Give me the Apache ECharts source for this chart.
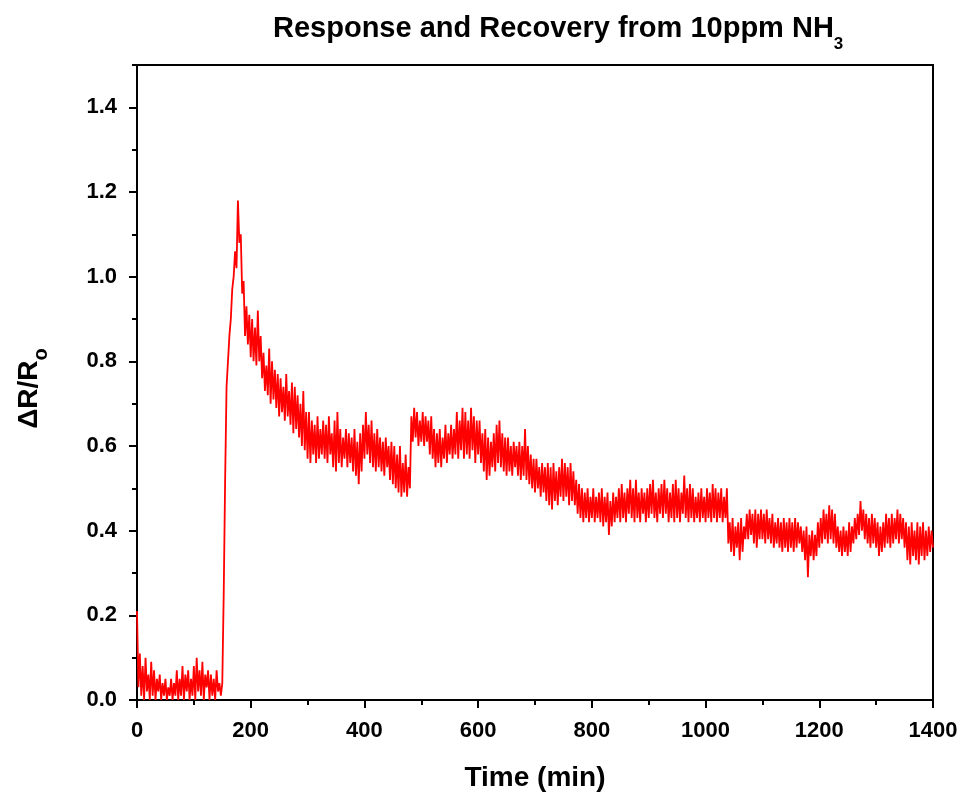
<!DOCTYPE html>
<html>
<head>
<meta charset="utf-8">
<script src="https://cdn.jsdelivr.net/npm/echarts@6/dist/echarts.min.js"></script>
<style>
html,body{margin:0;padding:0;background:#fff;}
#chart{width:965px;height:800px;}
</style>
</head>
<body>
<div id="chart"></div>
<script>
// Sampling step of the recorded signal (min)
const timeStep = 2.5;
// ΔR/Ro values, one every 2.5 min from t = 0 to 1400 (40 per 100 min)
const responseValues = [
  // 0 - 97.5
  0.21,0.03,0.11,0.01,0.08,0.00,0.10,0.02,0.06,0.00, 0.09,0.01,0.07,0.00,0.05,0.02,0.06,0.00,0.04,0.01,
  0.05,0.00,0.03,0.01,0.05,0.00,0.04,0.01,0.07,0.00, 0.05,0.01,0.08,0.00,0.06,0.02,0.07,0.00,0.05,0.01,
  // 100 - 197.5
  0.08,0.00,0.10,0.02,0.07,0.01,0.09,0.00,0.06,0.03, 0.07,0.00,0.06,0.01,0.05,0.00,0.07,0.02,0.04,0.01,
  0.04,0.25,0.52,0.74,0.80,0.86,0.90,0.97,1.00,1.06, 1.02,1.18,1.08,1.10,0.96,0.99,0.86,0.93,0.84,0.91,
  // 200 - 297.5
  0.81,0.90,0.80,0.88,0.79,0.92,0.80,0.86,0.76,0.82, 0.73,0.79,0.72,0.83,0.70,0.80,0.71,0.78,0.69,0.77,
  0.67,0.76,0.68,0.74,0.66,0.77,0.67,0.73,0.65,0.75, 0.63,0.74,0.64,0.72,0.62,0.70,0.60,0.73,0.59,0.68,
  // 300 - 397.5
  0.57,0.68,0.56,0.66,0.58,0.65,0.56,0.67,0.57,0.64, 0.58,0.66,0.57,0.65,0.56,0.67,0.58,0.63,0.55,0.66,
  0.54,0.68,0.56,0.64,0.55,0.62,0.57,0.64,0.55,0.63, 0.56,0.62,0.54,0.64,0.53,0.61,0.51,0.63,0.54,0.65,
  // 400 - 497.5
  0.57,0.68,0.58,0.65,0.56,0.66,0.55,0.63,0.54,0.64, 0.55,0.62,0.54,0.61,0.53,0.62,0.55,0.60,0.52,0.61,
  0.51,0.60,0.50,0.58,0.49,0.60,0.48,0.56,0.49,0.58, 0.48,0.55,0.50,0.67,0.61,0.69,0.62,0.68,0.60,0.66,
  // 500 - 597.5
  0.61,0.68,0.60,0.67,0.61,0.66,0.58,0.67,0.57,0.64, 0.55,0.63,0.56,0.64,0.55,0.62,0.57,0.65,0.56,0.63,
  0.58,0.65,0.57,0.64,0.58,0.68,0.57,0.66,0.59,0.69, 0.57,0.68,0.58,0.66,0.57,0.69,0.59,0.67,0.56,0.66,
  // 600 - 697.5
  0.58,0.66,0.56,0.63,0.54,0.64,0.52,0.62,0.53,0.61, 0.55,0.63,0.54,0.65,0.56,0.66,0.55,0.63,0.54,0.62,
  0.53,0.62,0.54,0.60,0.53,0.61,0.55,0.60,0.53,0.61, 0.52,0.60,0.53,0.64,0.52,0.60,0.51,0.58,0.50,0.57,
  // 700 - 797.5
  0.49,0.57,0.50,0.55,0.48,0.56,0.49,0.55,0.47,0.56, 0.46,0.55,0.45,0.56,0.47,0.54,0.46,0.55,0.48,0.57,
  0.47,0.56,0.48,0.55,0.46,0.56,0.47,0.54,0.46,0.52, 0.44,0.51,0.43,0.50,0.42,0.49,0.43,0.50,0.42,0.48,
  // 800 - 897.5
  0.43,0.50,0.42,0.48,0.43,0.49,0.42,0.50,0.41,0.48, 0.42,0.49,0.39,0.47,0.41,0.49,0.42,0.48,0.43,0.50,
  0.42,0.51,0.43,0.49,0.42,0.50,0.44,0.52,0.43,0.50, 0.42,0.52,0.43,0.49,0.42,0.50,0.44,0.49,0.42,0.50,
  // 900 - 997.5
  0.43,0.51,0.44,0.52,0.43,0.49,0.42,0.50,0.44,0.51, 0.43,0.52,0.44,0.50,0.42,0.49,0.43,0.51,0.42,0.52,
  0.43,0.50,0.42,0.49,0.44,0.53,0.43,0.50,0.42,0.51, 0.43,0.50,0.42,0.48,0.43,0.49,0.42,0.50,0.43,0.48,
  // 1000 - 1097.5
  0.42,0.50,0.43,0.49,0.42,0.51,0.43,0.50,0.42,0.49, 0.43,0.50,0.42,0.48,0.43,0.50,0.37,0.42,0.35,0.43,
  0.34,0.41,0.36,0.42,0.33,0.43,0.35,0.41,0.38,0.44, 0.38,0.45,0.39,0.44,0.37,0.45,0.36,0.44,0.38,0.45,
  // 1100 - 1197.5
  0.38,0.44,0.37,0.45,0.38,0.43,0.37,0.44,0.36,0.42, 0.37,0.43,0.36,0.42,0.35,0.43,0.36,0.42,0.35,0.43,
  0.36,0.42,0.35,0.43,0.36,0.42,0.37,0.41,0.35,0.40, 0.33,0.41,0.29,0.39,0.34,0.40,0.33,0.39,0.34,0.42,
  // 1200 - 1297.5
  0.36,0.43,0.37,0.45,0.38,0.44,0.37,0.46,0.38,0.45, 0.37,0.44,0.36,0.41,0.35,0.40,0.34,0.41,0.35,0.40,
  0.34,0.42,0.35,0.41,0.37,0.43,0.38,0.44,0.39,0.47, 0.40,0.45,0.38,0.44,0.37,0.43,0.36,0.44,0.37,0.43,
  // 1300 - 1400
  0.36,0.42,0.34,0.41,0.35,0.42,0.36,0.44,0.37,0.43, 0.36,0.44,0.37,0.43,0.38,0.45,0.37,0.44,0.38,0.43,
  0.36,0.42,0.33,0.41,0.32,0.42,0.34,0.40,0.33,0.42, 0.32,0.41,0.34,0.42,0.33,0.40,0.34,0.41,0.35,0.40,
  0.36
];
const xMajorTicks = [0, 200, 400, 600, 800, 1000, 1200, 1400];
const yMajorTicks = [0, 0.2, 0.4, 0.6, 0.8, 1.0, 1.2, 1.4];
const yMinorTicks = [0.1, 0.3, 0.5, 0.7, 0.9, 1.1, 1.3, 1.5];

const seriesData = responseValues.map((v, i) => [i * timeStep, v]);

const FONT = '"Liberation Sans", Arial, sans-serif';
const chart = echarts.init(document.getElementById('chart'), null, {renderer: 'canvas'});

const baseY = {
  type: 'value', min: 0, max: 1.5, position: 'left',
  splitLine: {show: false},
  axisLine: {show: true, lineStyle: {color: '#000', width: 2}}
};
const baseX = {
  type: 'value', min: 0, max: 1400, position: 'bottom',
  splitLine: {show: false},
  axisLine: {show: true, onZero: false, lineStyle: {color: '#000', width: 2}}
};

chart.setOption({
  animation: false,
  backgroundColor: '#fff',
  title: {
    left: 268, top: 0,
    text: '{a|Response and Recovery from 10ppm NH}{s|3}',
    textStyle: {
      rich: {
        a: {fontFamily: FONT, fontWeight: 'bold', fontSize: 29, color: '#000', lineHeight: 48},
        s: {fontFamily: FONT, fontWeight: 'bold', fontSize: 17, color: '#000', lineHeight: 16, verticalAlign: 'bottom'}
      }
    }
  },
  grid: {
    left: 137, right: 32, top: 65, bottom: 100,
    show: true, borderColor: '#000', borderWidth: 2, backgroundColor: 'transparent'
  },
  xAxis: [
    Object.assign({}, baseX, {
      interval: 200,
      name: 'Time (min)', nameLocation: 'middle', nameGap: 64,
      nameTextStyle: {fontFamily: FONT, fontWeight: 'bold', fontSize: 28, color: '#000'},
      axisTick: {show: true, inside: false, length: 8, lineStyle: {color: '#000', width: 2}, customValues: xMajorTicks},
      axisLabel: {
        show: true, margin: 20, fontFamily: FONT, fontWeight: 'bold', fontSize: 22, color: '#000',
        customValues: xMajorTicks, formatter: v => String(v)
      }
    }),
    Object.assign({}, baseX, {
      interval: 100,
      axisTick: {show: true, inside: false, length: 5, lineStyle: {color: '#000', width: 2}},
      axisLabel: {show: false}
    })
  ],
  yAxis: [
    Object.assign({}, baseY, {
      interval: 0.2,
      name: '{a|ΔR/R}{s|o}', nameLocation: 'middle', nameGap: 86,
      nameTextStyle: {
        padding: [0, 12, 0, 0],
        rich: {
          a: {fontFamily: FONT, fontWeight: 'bold', fontSize: 28, color: '#000', lineHeight: 44},
          s: {fontFamily: FONT, fontWeight: 'bold', fontSize: 20, color: '#000', lineHeight: 16, verticalAlign: 'bottom'}
        }
      },
      axisTick: {show: true, inside: false, length: 8, lineStyle: {color: '#000', width: 2}, customValues: yMajorTicks},
      axisLabel: {
        show: true, margin: 20, fontFamily: FONT, fontWeight: 'bold', fontSize: 22, color: '#000',
        customValues: yMajorTicks,
        formatter: v => v.toFixed(1)
      }
    }),
    Object.assign({}, baseY, {
      interval: 0.1,
      axisTick: {show: true, inside: false, length: 5, lineStyle: {color: '#000', width: 2}, customValues: yMinorTicks},
      axisLabel: {show: false}
    })
  ],
  series: [{
    type: 'line',
    xAxisIndex: 0, yAxisIndex: 0,
    data: seriesData,
    showSymbol: false,
    symbol: 'none',
    clip: true,
    lineStyle: {color: '#ff0000', width: 1.8},
    emphasis: {disabled: true}
  }]
});
</script>
</body>
</html>
